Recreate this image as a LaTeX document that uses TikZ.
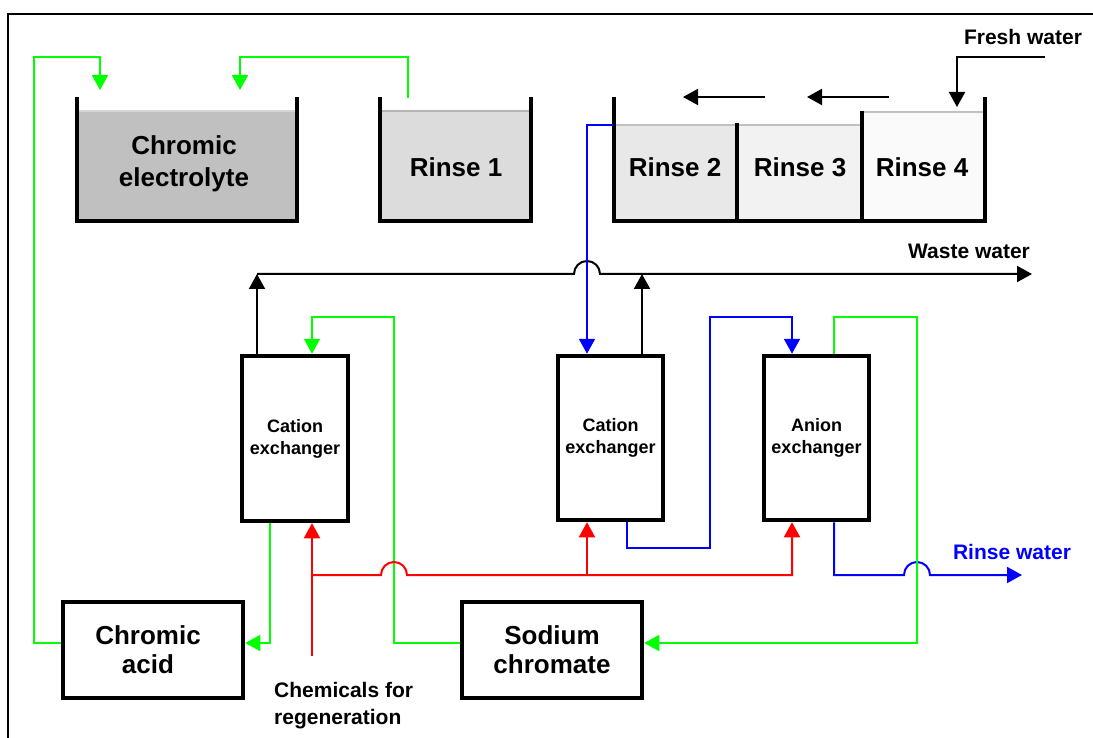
\documentclass[tikz,border=0pt]{standalone}
\usepackage{fontspec}
\setmainfont{Liberation Sans}
\usetikzlibrary{arrows.meta,calc}
\definecolor{pgreen}{RGB}{0,255,0}
\definecolor{pblue}{RGB}{0,0,255}
\definecolor{pred}{RGB}{255,0,0}
\definecolor{fillA}{RGB}{192,192,192}
\definecolor{fillB}{RGB}{220,220,220}
\definecolor{fillC}{RGB}{232,232,232}
\definecolor{fillD}{RGB}{242,242,242}
\definecolor{fillE}{RGB}{250,250,250}
\definecolor{surfA}{RGB}{212,212,212}
\definecolor{surfB}{RGB}{180,180,180}
\definecolor{surfC}{RGB}{192,192,192}
\begin{document}
\begin{tikzpicture}[x=1pt,y=-1pt,
  conn/.style={line width=2pt, line join=miter},
  gr/.style={conn, draw=pgreen, arrows={-{Triangle[width=16pt,length=15pt,fill=pgreen]}}},
  bl/.style={conn, draw=pblue, arrows={-{Triangle[width=16pt,length=15pt,fill=pblue]}}},
  rd/.style={conn, draw=pred, arrows={-{Triangle[width=16pt,length=15pt,fill=pred]}}},
  bk/.style={conn, draw=black, arrows={-{Triangle[width=16pt,length=15pt,fill=black]}}},
  wall/.style={line width=3.5pt, line join=miter},
  unit/.style={draw, line width=4.5pt, fill=white, inner sep=0pt, align=center, font=\fontsize{18}{22}\selectfont\bfseries},
  bigtxt/.style={align=center, inner sep=0pt, font=\fontsize{26}{32}\selectfont\bfseries},
  medtxt/.style={inner sep=0pt, font=\fontsize{21}{27}\selectfont\bfseries},
]
\useasboundingbox (0,0) rectangle (1093,738);
\fill[white] (0,0) rectangle (1093,738);
% frame
\draw[line width=2pt] (8,738) -- (8,14) -- (1093,14);

% Chromic electrolyte tank
\fill[fillA] (77,111) rectangle (297,221);
\draw[surfA, line width=1.5pt] (77,111) -- (297,111);
\draw[wall] (77,97) -- (77,221) -- (297,221) -- (297,97);
\node[bigtxt] (tE) at (184,164) {Chromic\\electrolyte};

% Rinse 1 tank
\fill[fillB] (380,111) rectangle (531,221);
\draw[surfB, line width=1.5pt] (380,111) -- (531,111);
\draw[wall] (380,97) -- (380,221) -- (531,221) -- (531,97);
\node[bigtxt] (t1) at (456,167) {Rinse 1};

% Rinse 2-4 tank
\fill[fillC] (614,125) rectangle (737,221);
\fill[fillD] (737,125) rectangle (862,221);
\fill[fillE] (862,112) rectangle (985,221);
\draw[surfC, line width=1.5pt] (614,125) -- (862,125);
\draw[surfC, line width=1.5pt] (862,112) -- (985,112);
\draw[wall] (614,97) -- (614,221) -- (985,221) -- (985,97);
\draw[wall] (737,123) -- (737,221);
\draw[wall] (862,111) -- (862,221);
\node[bigtxt] (t2) at (675,167) {Rinse 2};
\node[bigtxt] (t3) at (800,167) {Rinse 3};
\node[bigtxt] (t4) at (922,167) {Rinse 4};

% counter-current arrows
\coordinate (f34s) at (765,97);
\coordinate (f34e) at (683,97);
\coordinate (f43s) at (889,97);
\coordinate (f43e) at (807,97);
\draw[bk] (f34s) -- (f34e);
\draw[bk] (f43s) -- (f43e);

% fresh water
\node[medtxt] (fw) at (1023,37) {Fresh water};
\coordinate (fwin) at (1045,57);
\coordinate (fwout) at (957,107);
\draw[bk] (fwin) -| (fwout);

% units
\node[unit, minimum width=106pt, minimum height=165pt] (c1) at (295,438.5) {Cation\\exchanger};
\node[unit, minimum width=105pt, minimum height=164pt] (c2) at (610.5,438) {Cation\\exchanger};
\node[unit, minimum width=105pt, minimum height=164pt] (an) at (816.5,438) {Anion\\exchanger};
\node[unit, minimum width=180pt, minimum height=96pt, font=\fontsize{26}{29}\selectfont\bfseries] (ca) at (153,650) {\hspace*{-10pt}Chromic\\\hspace*{-10pt}acid};
\node[unit, minimum width=180pt, minimum height=96pt, font=\fontsize{26}{29}\selectfont\bfseries] (sc) at (552,650) {Sodium\\chromate};

% waste water
\node[medtxt] (ww) at (969,251) {Waste water};
\coordinate (wwend) at (1032,274);
\draw[bk] (257,274) -- (574,274) arc[start angle=180, end angle=360, radius=13] -- (wwend);
\draw[bk] ($(c1.north)+(-38,0)$) -- (257,274);
\draw[bk] ($(c2.north)+(31.5,0)$) -- (642,274);

% blue: rinse 2 -> cation 2
\coordinate (r2out) at (614,125);
\draw[bl] (r2out) -- (587,125) -- ($(c2.north)+(-23.5,0)$);
% blue: cation 2 -> anion
\draw[bl] ($(c2.south)+(16.5,0)$) -- (627,548) -- (710,548) -- (710,317) -- (792,317) -- ($(an.north)+(-24.5,0)$);
% blue: anion -> rinse water
\node[medtxt, text=pblue] (rw) at (1012,552) {Rinse water};
\coordinate (rwend) at (1022,575);
\draw[bl] ($(an.south)+(17.5,0)$) -- (834,575) -- (904,575) arc[start angle=180, end angle=360, radius=13] -- (rwend);

% green: anion -> sodium chromate
\draw[gr] ($(an.north)+(17.5,0)$) -- (834,317) -- (917,317) -- (917,643) -- ($(sc.east)+(0,-7)$);
% green: sodium chromate -> cation 1
\draw[gr] ($(sc.west)+(0,-7)$) -- (394,643) -- (394,317) -- (312,317) -- ($(c1.north)+(17,0)$);
% green: cation 1 -> chromic acid
\draw[gr] ($(c1.south)+(-25,0)$) -- (270,643) -- ($(ca.east)+(0,-7)$);
% green: chromic acid -> electrolyte
\coordinate (elin1) at (100,90);
\draw[gr] ($(ca.west)+(0,-7)$) -- (34,643) -- (34,57) -- (100,57) -- (elin1);
% green: rinse 1 -> electrolyte
\coordinate (r1out) at (408,98);
\coordinate (elin2) at (240,90);
\draw[gr] (r1out) -- (408,57) -- (240,57) -- (elin2);

% red: chemicals for regeneration
\node[medtxt, anchor=west, align=left] (chem) at (274,706) {Chemicals for\\regeneration};
\coordinate (chemin) at (312,656);
\draw[rd] (chemin) -- ($(c1.south)+(17,0)$);
\draw[rd] (312,575) -- (381,575) arc[start angle=180, end angle=360, radius=13] -- (792,575) -- ($(an.south)+(-24.5,0)$);
\draw[rd] (587,575) -- ($(c2.south)+(-23.5,0)$);
\end{tikzpicture}
\end{document}
